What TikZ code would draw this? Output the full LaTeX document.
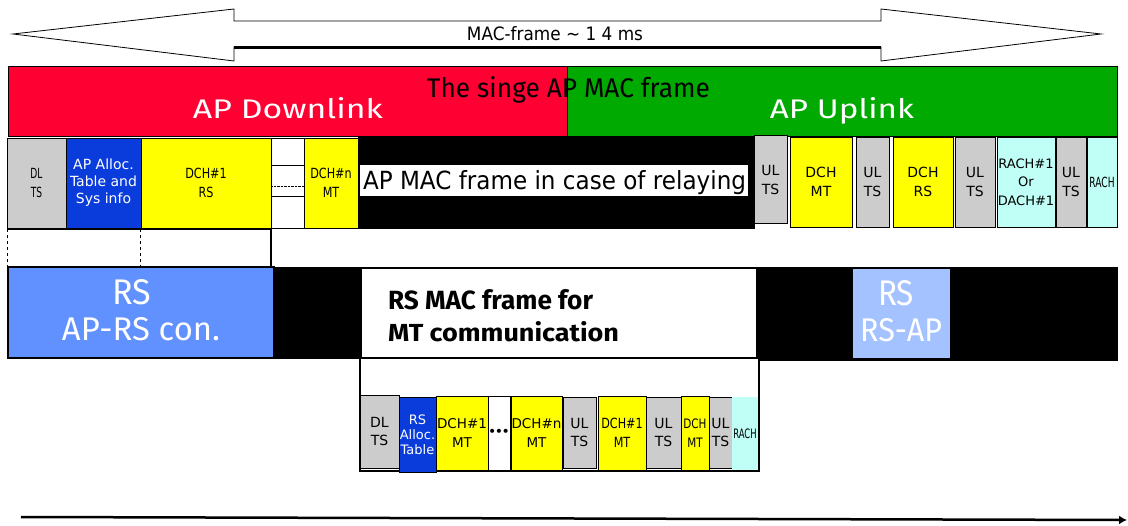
\documentclass[tikz,border=0pt]{standalone}
\usepackage{graphicx}
\usepackage{fontspec}
\setmainfont{DejaVu Sans}
\newfontfamily\fira{Fira Sans}
\newfontfamily\cndA[FakeStretch=0.65]{DejaVu Sans}
\newfontfamily\cndB[FakeStretch=0.8]{DejaVu Sans}
\usetikzlibrary{arrows.meta}
\definecolor{apred}{HTML}{FF0033}
\definecolor{apgreen}{HTML}{00AA00}
\definecolor{gry}{HTML}{CCCCCC}
\definecolor{blu}{HTML}{0A3CDC}
\definecolor{yel}{HTML}{FFFF00}
\definecolor{cyn}{HTML}{C0FFF6}
\definecolor{rsblue}{HTML}{6190FF}
\definecolor{rslight}{HTML}{A4C2FF}
\newcommand\fitt[3]{\resizebox{#1pt}{#2pt}{#3}}
\newcommand\cellf{\fontsize{14}{18.5}\selectfont}
\newcommand\cel[7]{\pgfmathsetmacro\celw{#4-#3}\pgfmathsetmacro\celh{#6-#5}%
  \node[cellb,#2,minimum width=\celw pt,minimum height=\celh pt,anchor=north west] (#1) at (#3,#5) {#7};}
\tikzset{
  cellb/.style={draw=black, line width=0.7pt, inner sep=0pt, outer sep=0pt, align=center, font=\cellf},
  lbl/.style={inner sep=0pt, outer sep=0pt, anchor=base},
}
\begin{document}
\begin{tikzpicture}[x=1pt,y=-1pt]
\useasboundingbox[fill=white] (0,0) rectangle (1128,526);

% top double arrow (outline)
\draw[line width=0.8pt, fill=white] (13,34) -- (234,9) -- (234,21) -- (881,21) -- (881,9)
  -- (1101,34) -- (881,61) -- (881,47) -- (234,47) -- (234,61) -- cycle;
\draw[line width=2.5pt] (234,47.5) -- (881,47.5);
\node[lbl] (macf) at (555,41) {\fitt{176}{14}{MAC-frame \textasciitilde{} 1 4 ms}};

% AP bars
\cel{apdl}{fill=apred, line width=1pt}{8}{567}{67}{137}{}
\cel{apul}{fill=apgreen, line width=1pt}{567}{1117}{67}{137}{}
\node[lbl, text=white] (apdlt) at (288,119) {\fitt{190}{21}{\fira AP Downlink}};
\node[lbl, text=white] (apult) at (842,119) {\fitt{144}{21}{\fira AP Uplink}};
\node[lbl] (singe) at (568.5,98) {\fitt{283}{21}{\fira The singe AP MAC frame}};

% row 2, left
\cel{dlts}{fill=gry, font=\cndA\cellf}{7}{66}{138}{228}{DL\\TS}
\cel{alloc}{fill=blu, text=white, font=\fontsize{14}{17}\selectfont}{66}{141}{138}{228}{AP Alloc.\\Table and\\Sys info}
\cel{dchone}{fill=yel, font=\cndB\cellf}{141}{271}{138}{228}{DCH\#1\\RS}
\cel{wa}{fill=white}{271}{304}{138}{165}{}
\cel{wb}{fill=white}{271}{304}{165}{196}{}
\cel{wc}{fill=white}{271}{304}{196}{228}{}
\draw[densely dotted] ([yshift=-5.5pt]wb.west) -- ([yshift=-5.5pt]wb.east);
\cel{dchn}{fill=yel, font=\cndB\cellf}{304}{358}{138}{228}{DCH\#n\\MT}
\cel{band}{fill=black}{358}{754}{137}{228}{}
\node[fill=white, inner sep=0pt, minimum width=388pt, minimum height=31pt, anchor=north west] (relay) at (360,165) {};
\node[lbl, anchor=base west] (relayt) at (363,190) {\fitt{383}{19}{AP MAC frame in case of relaying}};

% row 2, right
\cel{ula}{fill=gry, line width=1pt}{754}{787}{136}{224}{UL\\TS}
\cel{dchmt}{fill=yel}{790}{852}{137}{227}{DCH\\MT}
\cel{ulb}{fill=gry}{856}{889}{137}{227}{UL\\TS}
\cel{dchrs}{fill=yel}{893}{953}{137}{227}{DCH\\RS}
\cel{ulc}{fill=gry}{955}{995}{137}{227}{UL\\TS}
\cel{rachone}{fill=cyn, font=\fontsize{13}{18.5}\selectfont}{997}{1055}{137}{227}{RACH\#1\\Or\\DACH\#1}
\cel{uld}{fill=gry}{1056}{1086}{137}{227}{UL\\TS}
\cel{rach}{fill=cyn, font=\cndA\cellf}{1087}{1117}{137}{227}{RACH}

% row 3
\cel{rta}{draw=none}{7}{140}{229}{267}{}
\cel{rtb}{draw=none}{140}{271}{229}{267}{}
\draw[dashed, line width=1pt] (rta.north west) -- (rta.south west);
\draw[dashed, line width=1pt] (rta.north east) -- (rta.south east);
\draw[line width=2pt] (rtb.north east) -- (rtb.south east);
\draw[line width=2pt] (rta.north west) -- (rtb.north east);

% row 4
\cel{rsap}{fill=rsblue, line width=1.2pt}{8}{274}{267}{358}{}
\cel{blka}{fill=black}{274}{361}{267}{358}{}
\cel{rsmac}{fill=white, line width=1.2pt}{361}{757}{268}{358}{}
\cel{blkb}{fill=black}{757}{1117}{267}{360}{}
\cel{rsrs}{fill=rslight, draw=none}{853}{950}{269}{358}{}
\node[lbl, text=white] (rsat) at (132,305) {\fitt{39}{25}{\fira RS}};
\node[lbl, text=white] (rsbt) at (141,341) {\fitt{158}{23}{\fira AP-RS con.}};
\node[lbl, text=white] (rsct) at (896,306) {\fitt{36}{25}{\fira RS}};
\node[lbl, text=white] (rsdt) at (901,342) {\fitt{82}{23}{\fira RS-AP}};
\node[lbl, anchor=base west] (rsmt1) at (388,310) {\fitt{205}{20}{\fira\bfseries RS MAC frame for}};
\node[lbl, anchor=base west] (rsmt2) at (388,342) {\fitt{231}{20}{\fira\bfseries MT communication}};

% row 5
\cel{rsframe}{fill=white, line width=1.2pt}{360}{759}{358}{471}{}
\cel{dlf}{fill=gry}{360}{399}{395}{468}{DL\\TS}
\cel{rsalloc}{fill=blu, text=white, font=\fontsize{13}{15}\selectfont}{399}{436}{397}{472}{RS\\Alloc.\\Table}
\cel{dfa}{fill=yel, font=\fontsize{13.5}{18.5}\selectfont}{436}{488}{396}{470}{DCH\#1\\MT}
\cel{dots}{fill=white}{488}{510}{396}{470}{\textbullet\kern-1.5pt\textbullet\kern-1.5pt\textbullet}
\cel{dfn}{fill=yel, font=\fontsize{13.5}{18.5}\selectfont}{511}{562}{396}{470}{DCH\#n\\MT}
\cel{ulfa}{fill=gry}{563}{596}{397}{468}{UL\\TS}
\cel{dfb}{fill=yel, font=\cndB\cellf}{598}{646}{396}{470}{DCH\#1\\MT}
\cel{ulfb}{fill=gry}{646}{681}{397}{468}{UL\\TS}
\cel{dfc}{fill=yel, font=\cndB\fontsize{13}{18.5}\selectfont}{681}{709}{396}{470}{DCH\\MT}
\cel{ulfc}{fill=gry}{709}{732}{397}{468}{UL\\TS}
\cel{racf}{fill=cyn, draw=none, font=\cndA\fontsize{13}{14}\selectfont}{732}{758}{397}{470}{RACH}

% time axis
\coordinate (ta) at (21,517);
\coordinate (tb) at (1127,520);
\draw[line width=2.5pt, -{Latex[length=8pt,width=9pt]}] (ta) -- (tb);
\end{tikzpicture}
\end{document}
